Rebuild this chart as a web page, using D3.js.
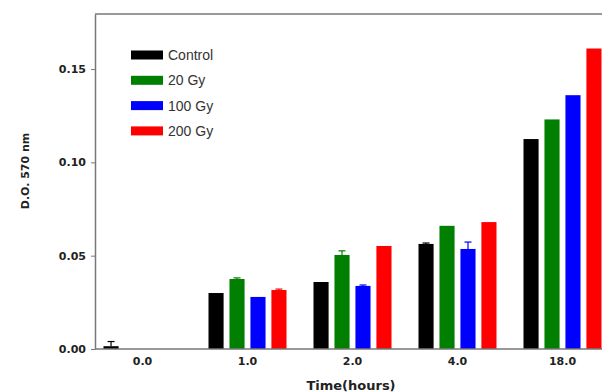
<!DOCTYPE html>
<html>
<head>
<meta charset="utf-8">
<script src="https://cdn.jsdelivr.net/npm/d3@7"></script>
<style>
	body { margin: 0; background: #fff; }
	svg { display: block; font-family: "Liberation Sans", Arial, sans-serif; }
	.bold { font-family: "DejaVu Sans", sans-serif; font-weight: bold; fill: #222; }
</style>
</head>
<body>
<svg id="chart"></svg>
<script>
'use strict'

var times = ["0.0", "1.0", "2.0", "4.0", "18.0"];
var series = ["Control", "20 Gy", "100 Gy", "200 Gy"];
var colors = ["#000000", "#007f00", "#0000ff", "#ff0000"];

// O.D. per time point, one array per dose
var control = [0.0015, 0.0300, 0.0359, 0.0563, 0.1125];
var gy20 = [0, 0.0375, 0.0504, 0.0660, 0.1230];
var gy100 = [0, 0.0279, 0.0338, 0.0536, 0.1360];
var gy200 = [0, 0.0316, 0.0552, 0.0680, 0.1610];

// standard errors (0 = not drawn)
var controlErr = [0.0025, 0, 0, 0.0005, 0];
var gy20Err = [0, 0.0006, 0.0022, 0, 0];
var gy100Err = [0, 0, 0.0005, 0.0037, 0];
var gy200Err = [0, 0.0005, 0, 0, 0];

var yTicks = [0, 0.05, 0.10, 0.15];

var values = [control, gy20, gy100, gy200];
var errors = [controlErr, gy20Err, gy100Err, gy200Err];

var WIDTH = 602,
	HEIGHT = 392;

var svg = d3.select("#chart")
	.attr("width", WIDTH)
	.attr("height", HEIGHT);

var axisColor = "#777";

var x0 = d3.scaleBand()
	.domain(times)
	.range([90, 615])
	.padding(0);

var x1 = d3.scaleBand()
	.domain(series)
	.range([-39, 39])
	.paddingInner(0.28)
	.paddingOuter(0);

var y = d3.scaleLinear()
	.domain([0, 0.1795])
	.range([349, 14]);

function barMid(d) {
	return x0(d.t) + x0.bandwidth() / 2 + x1(d.s) + x1.bandwidth() / 2;
}

// flatten for drawing
var bars = [];
series.forEach(function (s, si) {
	times.forEach(function (t, ti) {
		bars.push({ s: s, si: si, t: t, v: values[si][ti], e: errors[si][ti] });
	});
});

// error bars (behind the bars)
var errs = svg.append("g")
	.selectAll("g")
	.data(bars.filter(function (d) { return d.e > 0; }))
	.enter()
	.append("g")
	.attr("stroke", function (d) { return colors[d.si]; })
	.attr("stroke-width", 1.2);

errs.append("line")
	.attr("x1", barMid)
	.attr("x2", barMid)
	.attr("y1", function (d) { return y(d.v); })
	.attr("y2", function (d) { return y(d.v + d.e); });

errs.append("line")
	.attr("x1", function (d) { return barMid(d) - 3.5; })
	.attr("x2", function (d) { return barMid(d) + 3.5; })
	.attr("y1", function (d) { return y(d.v + d.e); })
	.attr("y2", function (d) { return y(d.v + d.e); });

svg.append("g")
	.selectAll("rect")
	.data(bars.filter(function (d) { return d.v > 0; }))
	.enter()
	.append("rect")
	.attr("x", function (d) { return x0(d.t) + x0.bandwidth() / 2 + x1(d.s); })
	.attr("y", function (d) { return y(d.v); })
	.attr("width", x1.bandwidth())
	.attr("height", function (d) { return y(0) - y(d.v); })
	.style("fill", function (d) { return colors[d.si]; });

// frame lines: top and bottom
svg.append("line")
	.attr("x1", 95).attr("x2", WIDTH)
	.attr("y1", y.range()[1]).attr("y2", y.range()[1])
	.style("stroke", axisColor)
	.style("stroke-width", 1.5);

svg.append("line")
	.attr("x1", 95).attr("x2", WIDTH)
	.attr("y1", y(0)).attr("y2", y(0))
	.style("stroke", axisColor)
	.style("stroke-width", 1.5);

// y axis
var yAxis = svg.append("g")
	.attr("transform", "translate(95,0)")
	.call(d3.axisLeft(y)
		.tickValues(yTicks)
		.tickFormat(d3.format(".2f"))
		.tickSize(4)
		.tickSizeOuter(0)
		.tickPadding(5));

yAxis.select(".domain").style("stroke", axisColor).style("stroke-width", 1.5);
yAxis.selectAll(".tick line").style("stroke", axisColor);
yAxis.selectAll("text")
	.attr("class", "bold")
	.attr("font-size", null)
	.style("font-size", "11px");

// x axis labels
var xAxis = svg.append("g")
	.attr("transform", "translate(0," + y(0) + ")")
	.call(d3.axisBottom(x0).tickSize(0).tickPadding(8));

xAxis.select(".domain").remove();
xAxis.selectAll("text")
	.attr("class", "bold")
	.style("font-size", "11px");

// axis titles
svg.append("text")
	.attr("class", "bold")
	.attr("transform", "translate(29,171) rotate(-90)")
	.attr("text-anchor", "middle")
	.style("font-size", "11px")
	.text("D.O. 570 nm");

svg.append("text")
	.attr("class", "bold")
	.attr("x", 351)
	.attr("y", 390)
	.attr("text-anchor", "middle")
	.style("font-size", "13px")
	.text("Time(hours)");

// legend
var legend = svg.append("g")
	.selectAll("g")
	.data(series)
	.enter()
	.append("g")
	.attr("transform", function (d, i) { return "translate(131," + (55 + i * 25.3) + ")"; });

legend.append("rect")
	.attr("x", 0)
	.attr("y", -4.5)
	.attr("width", 32)
	.attr("height", 9)
	.style("fill", function (d, i) { return colors[i]; });

legend.append("text")
	.attr("x", 37)
	.attr("y", 0)
	.attr("dy", "0.36em")
	.style("font-size", "14px")
	.style("fill", "#333")
	.text(function (d) { return d; });
</script>
</body>
</html>
